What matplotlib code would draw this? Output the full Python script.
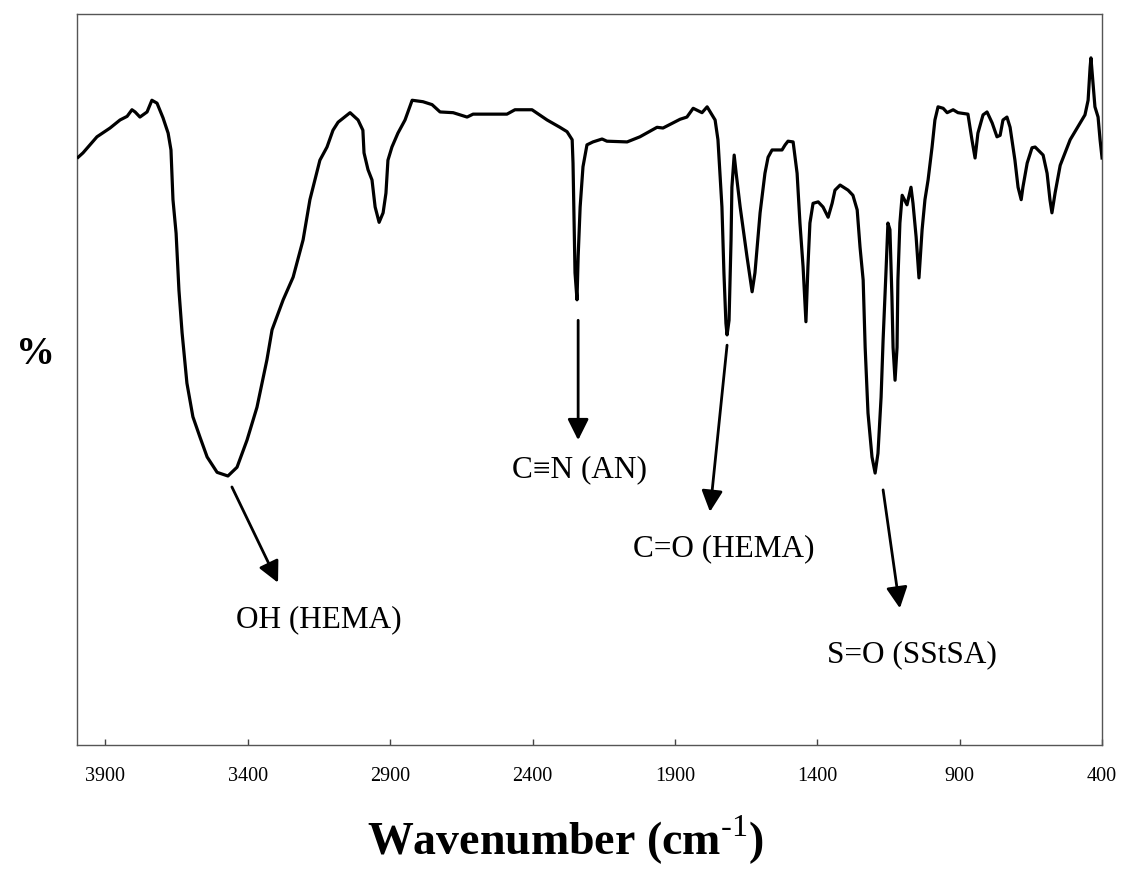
#!/usr/bin/env python3
"""FTIR spectrum of the AN/HEMA/SStSA copolymer with band assignments."""

import matplotlib

matplotlib.use("Agg")
import matplotlib.pyplot as plt

plt.rcParams["font.family"] = ["Liberation Serif", "DejaVu Serif"]
plt.rcParams["mathtext.fontset"] = "custom"
plt.rcParams["mathtext.rm"] = "Liberation Serif"
plt.rcParams["mathtext.bf"] = "Liberation Serif:bold"

# spectrum: wavenumber (cm-1) and transmittance (%)
WAVENUMBER = [
    3996, 3979, 3930, 3884, 3849, 3824, 3807, 3796, 3779, 3754,
    3737, 3719, 3698, 3680, 3670, 3663, 3652, 3642, 3631, 3614,
    3593, 3568, 3543, 3508, 3470, 3438, 3403, 3368, 3333, 3315,
    3276, 3241, 3206, 3182, 3147, 3122, 3101, 3083, 3041, 3013,
    2996, 2992, 2978, 2964, 2953, 2939, 2925, 2915, 2908, 2894,
    2873, 2848, 2823, 2785, 2753, 2725, 2679, 2630, 2609, 2490,
    2462, 2402, 2349, 2304, 2279, 2261, 2258, 2254, 2251, 2244,
    2240, 2233, 2223, 2209, 2188, 2156, 2139, 2068, 2023, 1963,
    1942, 1882, 1858, 1836, 1805, 1787, 1770, 1759, 1749, 1735,
    1728, 1721, 1717, 1710, 1703, 1700, 1692, 1685, 1671, 1647,
    1629, 1619, 1601, 1584, 1573, 1559, 1524, 1513, 1503, 1485,
    1471, 1461, 1450, 1440, 1433, 1426, 1415, 1397, 1380, 1362,
    1348, 1338, 1320, 1292, 1275, 1260, 1250, 1239, 1232, 1222,
    1208, 1197, 1187, 1176, 1169, 1159, 1152, 1145, 1138, 1134,
    1127, 1120, 1117, 1110, 1102, 1085, 1071, 1064, 1053, 1043,
    1032, 1022, 1011, 997, 987, 976, 958, 944, 923, 906,
    871, 857, 846, 836, 818, 804, 786, 769, 758, 748,
    734, 723, 706, 695, 684, 678, 663, 646, 635, 607,
    593, 583, 576, 565, 547, 512, 477, 460, 449, 442,
    439, 432, 425, 414, 407, 400,
]
TRANSMITTANCE = [
    80.4, 81.0, 83.2, 84.4, 85.5, 86.0, 86.9, 86.6, 85.9, 86.6,
    88.2, 87.8, 85.8, 83.7, 81.4, 74.6, 70.0, 62.2, 56.4, 49.5,
    44.9, 42.1, 39.4, 37.3, 36.8, 38.0, 41.7, 46.2, 52.7, 56.8,
    60.9, 64.0, 69.1, 74.6, 80.0, 81.8, 84.1, 85.2, 86.5, 85.5,
    84.1, 81.0, 78.7, 77.3, 73.6, 71.5, 72.8, 75.5, 80.0, 81.8,
    83.7, 85.5, 88.2, 88.0, 87.6, 86.6, 86.5, 85.9, 86.3, 86.3,
    86.9, 86.9, 85.5, 84.5, 83.9, 82.8, 79.6, 71.4, 64.6, 60.9,
    66.8, 73.6, 79.1, 82.1, 82.5, 82.9, 82.6, 82.5, 83.2, 84.5,
    84.4, 85.6, 85.9, 87.1, 86.5, 87.3, 86.2, 85.5, 82.8, 73.6,
    64.6, 57.7, 56.1, 58.1, 69.1, 76.3, 80.7, 78.2, 73.6, 66.8,
    62.0, 64.6, 72.8, 78.2, 80.4, 81.4, 81.4, 82.1, 82.6, 82.5,
    78.2, 71.4, 65.4, 57.9, 65.4, 71.4, 74.1, 74.3, 73.6, 72.2,
    74.1, 75.9, 76.6, 75.9, 75.2, 73.2, 68.1, 63.6, 54.4, 45.4,
    39.4, 37.2, 39.9, 47.6, 55.4, 64.6, 71.4, 70.5, 61.3, 54.4,
    49.9, 54.4, 63.6, 71.4, 75.2, 73.9, 76.3, 74.1, 69.5, 63.9,
    70.5, 74.6, 77.3, 81.8, 85.5, 87.3, 87.1, 86.5, 86.9, 86.5,
    86.3, 82.8, 80.3, 83.7, 86.2, 86.6, 85.1, 83.2, 83.4, 85.5,
    85.9, 84.5, 80.0, 76.3, 74.6, 76.3, 79.6, 81.7, 81.8, 80.7,
    78.2, 74.6, 72.8, 75.5, 79.3, 82.8, 85.1, 86.2, 88.2, 92.7,
    94.0, 90.6, 87.3, 85.9, 82.8, 80.3,
]

X_TICKS = [3900, 3400, 2900, 2400, 1900, 1400, 900, 400]

# band labels: text, arrow tail, arrow head, label centre (wavenumber, %)
BAND_LABELS = ["OH (HEMA)", "C\u2261N (AN)", "C=O (HEMA)", "S=O (SStSA)"]
ARROW_TAIL = [(3456, 35.3), (2240, 58.1), (1717, 54.7), (1169, 34.9)]
ARROW_HEAD = [(3294, 22.2), (2240, 41.7), (1777, 31.9), (1110, 18.7)]
LABEL_POS = [(3150, 17.1), (2236, 37.6), (1728, 26.9), (1067, 12.3)]


def main() -> None:
    fig = plt.figure(figsize=(11.21, 8.8), dpi=100)
    ax = fig.add_axes([0.0687, 0.1534, 0.9144, 0.8307])

    ax.plot(WAVENUMBER, TRANSMITTANCE, color="black", linewidth=2.3,
            solid_joinstyle="round", zorder=3)

    for text, tail, head, pos in zip(BAND_LABELS, ARROW_TAIL, ARROW_HEAD, LABEL_POS):
        ax.annotate("", xy=head, xytext=tail,
                    arrowprops=dict(arrowstyle="-|>", color="black", lw=2.0,
                                    mutation_scale=32, shrinkA=0, shrinkB=0))
        ax.text(pos[0], pos[1], text, fontsize=22.5, ha="center", va="center")

    ax.set_xlim(4000, 400)
    ax.set_ylim(0, 100)
    ax.set_xticks(X_TICKS)
    ax.set_xticklabels([str(t) for t in X_TICKS], fontsize=14.5)
    ax.set_yticks([])
    ax.tick_params(axis="x", direction="in", length=4, width=1, pad=16,
                   color="#444444")
    for side in ["top", "bottom", "left", "right"]:
        ax.spines[side].set_color("#555555")
        ax.spines[side].set_linewidth(1.0)

    fig.text(35 / 1121, 1 - 355 / 880, "%", fontsize=28, fontweight="bold",
             ha="center", va="center")
    fig.text(565 / 1121, 1 - 840 / 880,
             "Wavenumber (cm$^{\\mathrm{\u2010}\\mathrm{1}}$)",
             fontsize=33, fontweight="bold", ha="center", va="center")

    fig.savefig("out.png", dpi=100)
    plt.close(fig)


if __name__ == "__main__":
    main()
